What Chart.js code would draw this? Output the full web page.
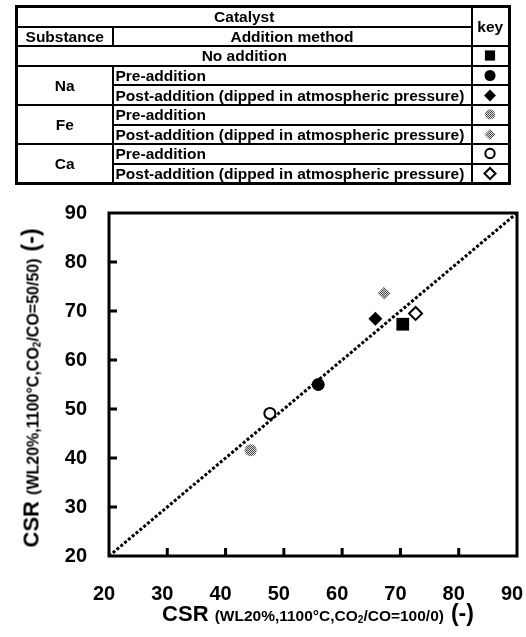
<!DOCTYPE html>
<html>
<head>
<meta charset="utf-8">
<script src="https://cdn.jsdelivr.net/npm/chart.js@4.4.0/dist/chart.umd.min.js"></script>
<style>
  html, body { margin: 0; padding: 0; background: #fff; }
  #wrap { position: relative; width: 526px; height: 637px; overflow: hidden; }
  #plot { position: absolute; left: 0; top: 0; }
  #keyTable {
    position: absolute; left: 15px; top: 5px;
    border-collapse: collapse; table-layout: fixed;
    font: bold 15.5px 'Liberation Sans', Arial, sans-serif; color: #000;
    border: 3px solid #000;
  }
  #keyTable td, #keyTable th {
    border: 2px solid #000; height: 17.6px; padding: 0 2px; line-height: 17px;
    white-space: nowrap; overflow: hidden; font-weight: bold; vertical-align: middle;
  }
  #keyTable .c { text-align: center; }
  #keyTable .k { text-align: center; padding: 0; }
  #keyTable canvas { display: block; margin: 0 auto; }
  .axTitle { position: absolute; white-space: nowrap; font-family: 'Liberation Sans', Arial, sans-serif; font-weight: bold; color: #000; line-height: 1; }
  .axTitle .big { font-size: 22px; }
  .axTitle .small { font-size: 15.5px; }
  .axTitle .unit { font-size: 23px; margin-left: 7px; }
  .axTitle sub { font-size: 10px; vertical-align: -2px; }
  #xTitle { left: 318px; top: 602px; transform: translateX(-50%); }
  #yTitle { left: 31px; top: 388px; transform: translate(-50%, -50%) rotate(-90deg); }
  #yTitle .small { font-size: 16px; }
</style>
</head>
<body>
<div id="wrap">
  <canvas id="plot" width="526" height="637"></canvas>
  <table id="keyTable"></table>
  <div class="axTitle" id="xTitle"><span class="big">CSR </span><span class="small">(WL20%,1100°C,CO<sub>2</sub>/CO=100/0)</span><span class="unit">(-)</span></div>
  <div class="axTitle" id="yTitle"><span class="big">CSR </span><span class="small">(WL20%,1100°C,CO<sub>2</sub>/CO=50/50)</span><span class="unit">(-)</span></div>
</div>
<script>
// CSR after reaction: 100/0 CO2/CO atmosphere (x) vs 50/50 CO2/CO atmosphere (y)
const seriesNames = ['No addition', 'Na pre-addition', 'Na post-addition', 'Fe pre-addition', 'Fe post-addition', 'Ca pre-addition', 'Ca post-addition'];
const csrCO2Only = [70.4, 55.9, 65.7, 44.3, 67.2, 47.6, 72.6];
const csrCO2CO5050 = [67.3, 55.0, 68.4, 41.6, 73.6, 49.1, 69.5];
const axisTicks = [20, 30, 40, 50, 60, 70, 80, 90];
const parityLine = [20, 90];

// Catalyst key table
const tableHeader = ['Catalyst', 'Substance', 'Addition method', 'key'];
const substances = ['Na', 'Fe', 'Ca'];
const additionMethods = ['Pre-addition', 'Post-addition (dipped in atmospheric pressure)'];
const noAdditionLabel = 'No addition';

// grey dithered fill used for the Fe markers
function ditherPattern() {
  const c = document.createElement('canvas');
  c.width = 2; c.height = 2;
  const g = c.getContext('2d');
  g.fillStyle = '#dcdcdc'; g.fillRect(0, 0, 2, 2);
  g.fillStyle = '#4a4a4a'; g.fillRect(0, 0, 1, 1); g.fillRect(1, 1, 1, 1);
  return g.createPattern(c, 'repeat');
}
const grey = ditherPattern();

const markerStyles = [
  { pointStyle: 'rect',    radius: 9,   fill: '#000', stroke: '#000', bw: 0 },
  { pointStyle: 'circle',  radius: 6.5, fill: '#000', stroke: '#000', bw: 0 },
  { pointStyle: 'rectRot', radius: 7,   fill: '#000', stroke: '#000', bw: 0 },
  { pointStyle: 'circle',  radius: 6,   fill: grey,   stroke: '#888', bw: 0 },
  { pointStyle: 'rectRot', radius: 6.5, fill: grey,   stroke: '#888', bw: 0 },
  { pointStyle: 'circle',  radius: 5.5, fill: '#fff', stroke: '#000', bw: 2 },
  { pointStyle: 'rectRot', radius: 6.5, fill: '#fff', stroke: '#000', bw: 2 }
];

// ---- table ----
function keyCanvas(i, scale) {
  const s = markerStyles[i];
  const cv = document.createElement('canvas');
  cv.width = 20; cv.height = 17;
  const g = cv.getContext('2d');
  g.fillStyle = s.fill; g.strokeStyle = s.stroke; g.lineWidth = s.bw;
  const opts = { pointStyle: s.pointStyle, radius: s.radius * scale, rotation: 0, borderWidth: s.bw };
  Chart.helpers.drawPoint(g, opts, 10, 8.5);
  return cv;
}
(function buildTable() {
  const t = document.getElementById('keyTable');
  const cg = document.createElement('colgroup');
  [96, 359, 38].forEach(w => { const c = document.createElement('col'); c.style.width = w + 'px'; cg.appendChild(c); });
  t.appendChild(cg);
  const row = () => { const r = document.createElement('tr'); t.appendChild(r); return r; };
  const cell = (r, txt, cls, cs, rs) => {
    const d = document.createElement('td');
    if (txt !== null) d.textContent = txt;
    if (cls) d.className = cls;
    if (cs) d.colSpan = cs;
    if (rs) d.rowSpan = rs;
    r.appendChild(d); return d;
  };
  let r = row();
  cell(r, tableHeader[0], 'c', 2);
  cell(r, tableHeader[3], 'c', 1, 2);
  r = row();
  cell(r, tableHeader[1], 'c');
  cell(r, tableHeader[2], 'c');
  r = row();
  cell(r, noAdditionLabel, 'c', 2);
  cell(r, null, 'k').appendChild(keyCanvas(0, 0.8));
  let k = 1;
  substances.forEach(sub => {
    additionMethods.forEach((m, j) => {
      const rr = row();
      if (j === 0) cell(rr, sub, 'c', 1, 2);
      cell(rr, m);
      cell(rr, null, 'k').appendChild(keyCanvas(k, 0.85));
      k++;
    });
  });
})();

// ---- chart ----
const tickFont = { family: "'Liberation Sans', Arial, sans-serif", size: 20, weight: 'bold' };

const datasets = [{
  type: 'line',
  data: parityLine.map(v => ({ x: v, y: v })),
  borderColor: '#000', borderWidth: 3, borderDash: [3, 2],
  pointRadius: 0, fill: false, order: 1
}];
seriesNames.forEach((name, i) => {
  const s = markerStyles[i];
  datasets.push({
    label: name,
    data: [{ x: csrCO2Only[i], y: csrCO2CO5050[i] }],
    pointStyle: s.pointStyle, pointRadius: s.radius,
    backgroundColor: s.fill, borderColor: s.stroke, borderWidth: s.bw,
    order: 0
  });
});

const frameAndTicks = {
  id: 'frameAndTicks',
  afterDraw(chart) {
    const { ctx, chartArea: a, scales: { x, y } } = chart;
    ctx.save();
    ctx.strokeStyle = '#000';
    ctx.lineWidth = 3;
    ctx.strokeRect(a.left, a.top, a.right - a.left, a.bottom - a.top);
    const inner = axisTicks.slice(1, -1);
    inner.forEach(v => {
      const px = x.getPixelForValue(v);
      ctx.beginPath(); ctx.moveTo(px, a.bottom); ctx.lineTo(px, a.bottom - 8); ctx.stroke();
      const py = y.getPixelForValue(v);
      ctx.beginPath(); ctx.moveTo(a.left, py); ctx.lineTo(a.left + 8, py); ctx.stroke();
    });
    ctx.restore();
  }
};

const setTicks = s => { s.ticks = axisTicks.map(v => ({ value: v })); };

new Chart(document.getElementById('plot'), {
  type: 'scatter',
  data: { datasets },
  options: {
    responsive: false,
    animation: false,
    layout: { padding: { top: 213, right: 9, left: 0, bottom: 0 } },
    plugins: { legend: { display: false }, tooltip: { enabled: false } },
    scales: {
      x: {
        type: 'linear', min: 20, max: 90,
        afterBuildTicks: setTicks,
        ticks: { font: tickFont, color: '#000', padding: 26, labelOffset: -5, maxRotation: 0, autoSkip: false },
        grid: { display: false, drawTicks: false },
        border: { display: false },
        afterFit: s => { s.height = 81; s.paddingLeft = 0; s.paddingRight = 0; }
      },
      y: {
        type: 'linear', min: 20, max: 90,
        afterBuildTicks: setTicks,
        ticks: { font: tickFont, color: '#000', padding: 22, autoSkip: false },
        grid: { display: false, drawTicks: false },
        border: { display: false },
        afterFit: s => { s.width = 109; s.paddingTop = 0; s.paddingBottom = 0; }
      }
    }
  },
  plugins: [frameAndTicks]
});
</script>
</body>
</html>
